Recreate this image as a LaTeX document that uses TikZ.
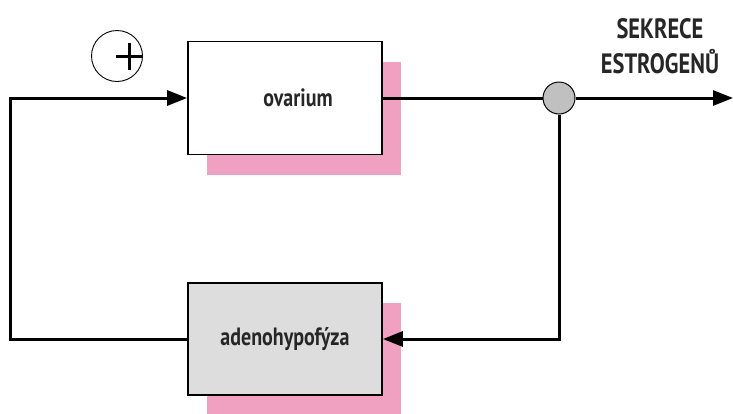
\documentclass[tikz,border=0pt]{standalone}
\usepackage{fontspec}
\setmainfont{PT Sans}
\newfontfamily\condfont[FakeStretch=0.8]{PT Sans}
\usetikzlibrary{arrows.meta,shadows}
\definecolor{shadowpink}{RGB}{240,160,193}
\definecolor{boxgray}{RGB}{221,221,221}
\definecolor{dotgray}{RGB}{192,192,192}

\begin{document}
\begin{tikzpicture}[x=1pt,y=-1pt,
            block/.style={draw,line width=1.8pt,minimum width=194pt,minimum height=113pt,inner sep=0pt,
                font=\condfont\bfseries\fontsize{25}{28}\selectfont,text=black!85,
                drop shadow={shadow xshift=19pt,shadow yshift=-20pt,fill=shadowpink,opacity=1}},
            junction/.style={draw,circle,line width=1pt,fill=dotgray,minimum size=32pt,inner sep=0pt},
            sign/.style={draw,circle,line width=0.9pt,minimum size=51pt,inner sep=0pt},
            to/.style={-{Triangle[length=20pt,width=15pt]},line width=3pt},
            wire/.style={line width=3pt}]

            \useasboundingbox (0,0) rectangle (733,413);

            \node[block,fill=white] (ovarium) at (285,98) {\hspace*{26pt}ovarium};
            \node[block,fill=boxgray,minimum height=112pt] (adeno) at (285,339) {adenohypofýza};
            \node[junction] (dot) at (559,98) {};
            \node[sign] (plus) at (117,56) {};
            \coordinate (loop) at (10,339);
            \coordinate (out) at (733,98);
            \node[font=\condfont\bfseries\fontsize{28}{35}\selectfont,text=black!85,align=center]
                (sekrece) at (660,46) {SEKRECE\\ESTROGENŮ};

            % plus sign
            \draw[line width=3pt] ([xshift=-1pt]plus.center) -- ++(27,0);
            \draw[line width=3pt] ([xshift=12pt,yshift=13pt]plus.center) -- ++(0,27);

            \draw[to] (adeno.west) -- (loop) |- (ovarium.west);
            \draw[wire] (ovarium.east) -- (dot.west);
            \draw[to] (dot.east) -- (out);
            \draw[to] (dot.south) |- (adeno.east);
        \end{tikzpicture}
\end{document}
